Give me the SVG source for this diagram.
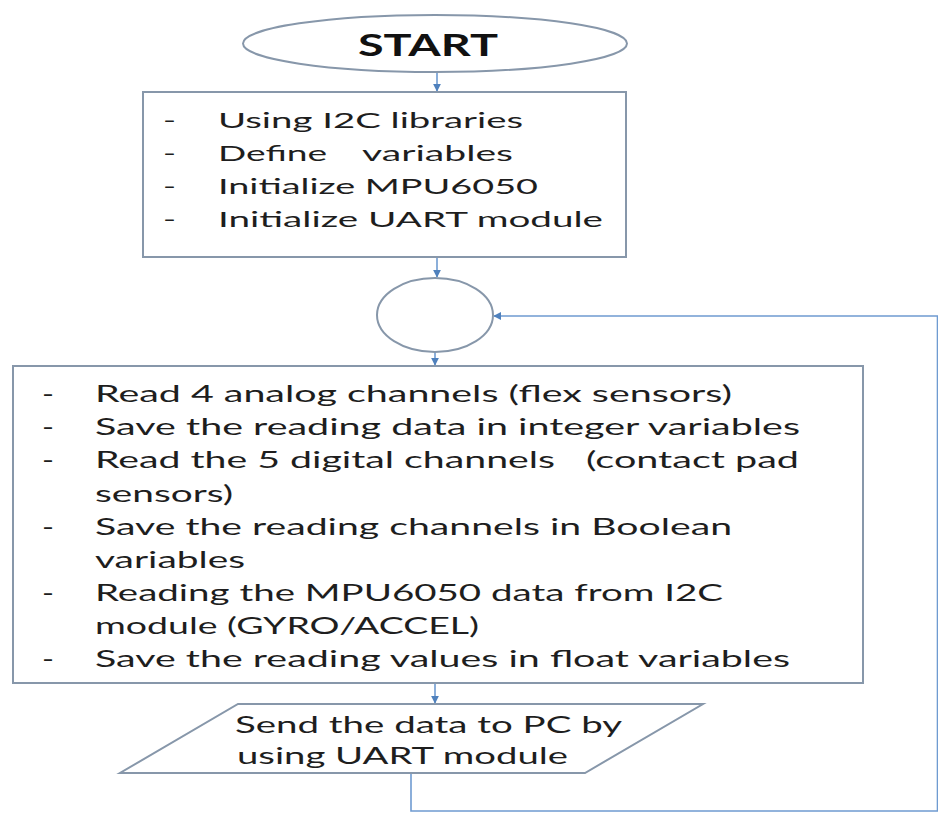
<svg xmlns="http://www.w3.org/2000/svg" width="938" height="813" viewBox="0 0 938 813">
  <style>
    .shape { fill: #ffffff; stroke: #8797aa; stroke-width: 2; }
    .wire { fill: none; stroke: #6f9bd1; stroke-width: 1.6; }
    .txt { font-family: Lato, "Open Sans", "Liberation Sans", sans-serif; fill: #1e1e1e; }
    .b1 { font-size: 21.5px; }
    .b2 { font-size: 23.5px; }
    .title { font-size: 31px; font-weight: bold; fill: #111111; }
  </style>
  <defs>
    <marker id="arrow" viewBox="0 0 10 10" refX="9" refY="5" markerWidth="8" markerHeight="8" markerUnits="userSpaceOnUse" orient="auto">
      <path d="M0,0 L10,5 L0,10 z" fill="#4f81bd"/>
    </marker>
  </defs>

  <rect x="0" y="0" width="938" height="813" fill="#ffffff"/>

  <!-- connectors -->
  <g id="connectors">
    <path class="wire" d="M437,72 V91" marker-end="url(#arrow)"/>
    <path class="wire" d="M437,257 V277" marker-end="url(#arrow)"/>
    <path class="wire" d="M435,352 V365" marker-end="url(#arrow)"/>
    <path class="wire" d="M435,683 V703" marker-end="url(#arrow)"/>
    <path class="wire" d="M411,773 V811 H937.5 V316 H494" marker-end="url(#arrow)"/>
  </g>

  <!-- terminal -->
  <g id="start">
    <ellipse class="shape" cx="435" cy="43.5" rx="192" ry="28.5"/>
    <text class="txt title" x="358" y="55.5" textLength="140" lengthAdjust="spacingAndGlyphs">START</text>
  </g>

  <!-- initialisation block -->
  <g id="init">
    <rect class="shape" x="143" y="92" width="483" height="165"/>
    <g class="txt b1">
      <text x="163" y="128" textLength="13" lengthAdjust="spacingAndGlyphs">-</text>
      <text x="218" y="128" textLength="305" lengthAdjust="spacingAndGlyphs">Using I2C libraries</text>
      <text x="163" y="161" textLength="13" lengthAdjust="spacingAndGlyphs">-</text>
      <text x="218" y="161" textLength="109" lengthAdjust="spacingAndGlyphs">Define</text>
      <text x="362" y="161" textLength="151" lengthAdjust="spacingAndGlyphs">variables</text>
      <text x="163" y="194" textLength="13" lengthAdjust="spacingAndGlyphs">-</text>
      <text x="218" y="194" textLength="320" lengthAdjust="spacingAndGlyphs">Initialize MPU6050</text>
      <text x="163" y="227" textLength="13" lengthAdjust="spacingAndGlyphs">-</text>
      <text x="218" y="227" textLength="385" lengthAdjust="spacingAndGlyphs">Initialize UART module</text>
    </g>
  </g>

  <!-- loop junction -->
  <g id="loop">
    <ellipse class="shape" cx="435" cy="315" rx="58" ry="37"/>
  </g>

  <!-- acquisition block -->
  <g id="read">
    <rect class="shape" x="13" y="366" width="850" height="317"/>
    <g class="txt b2">
      <text x="42" y="402" textLength="12" lengthAdjust="spacingAndGlyphs">-</text>
      <text x="95" y="402" textLength="637" lengthAdjust="spacingAndGlyphs">Read 4 analog channels (flex sensors)</text>
      <text x="42" y="435" textLength="12" lengthAdjust="spacingAndGlyphs">-</text>
      <text x="95" y="435" textLength="705" lengthAdjust="spacingAndGlyphs">Save the reading data in integer variables</text>
      <text x="42" y="468" textLength="12" lengthAdjust="spacingAndGlyphs">-</text>
      <text x="95" y="468" textLength="460" lengthAdjust="spacingAndGlyphs">Read the 5 digital channels</text>
      <text x="586" y="468" textLength="213" lengthAdjust="spacingAndGlyphs">(contact pad</text>
      <text x="95" y="501.5" textLength="138" lengthAdjust="spacingAndGlyphs">sensors)</text>
      <text x="42" y="534.5" textLength="12" lengthAdjust="spacingAndGlyphs">-</text>
      <text x="95" y="534.5" textLength="637" lengthAdjust="spacingAndGlyphs">Save the reading channels in Boolean</text>
      <text x="95" y="567.5" textLength="150" lengthAdjust="spacingAndGlyphs">variables</text>
      <text x="42" y="600.5" textLength="12" lengthAdjust="spacingAndGlyphs">-</text>
      <text x="95" y="600.5" textLength="628" lengthAdjust="spacingAndGlyphs">Reading the MPU6050 data from I2C</text>
      <text x="95" y="633.5" textLength="384" lengthAdjust="spacingAndGlyphs">module (GYRO/ACCEL)</text>
      <text x="42" y="667" textLength="12" lengthAdjust="spacingAndGlyphs">-</text>
      <text x="95" y="667" textLength="695" lengthAdjust="spacingAndGlyphs">Save the reading values in float variables</text>
    </g>
  </g>

  <!-- output block -->
  <g id="send">
    <polygon class="shape" points="238,704 703,704 585,773 120,773"/>
    <g class="txt b2">
      <text x="235" y="732.5" textLength="387" lengthAdjust="spacingAndGlyphs">Send the data to PC by</text>
      <text x="237" y="763.5" textLength="331" lengthAdjust="spacingAndGlyphs">using UART module</text>
    </g>
  </g>
</svg>
